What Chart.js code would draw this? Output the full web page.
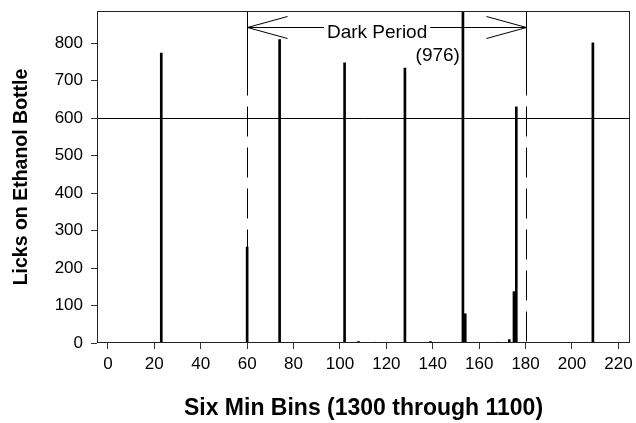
<!DOCTYPE html>
<html>
<head>
<meta charset="utf-8">
<script src="https://cdn.jsdelivr.net/npm/chart.js@4.4.0/dist/chart.umd.min.js"></script>
<style>
  html, body { margin: 0; padding: 0; background: #fff; }
  #wrap { width: 636px; height: 423px; }
</style>
</head>
<body>
<div id="wrap"><canvas id="chart"></canvas></div>
<script>
// six-minute bins and licks per bin
const bins  = [23, 60, 74, 102, 108, 115, 128, 139, 153, 154, 168, 173, 175, 176, 209];
const licks = [774, 256, 810, 748, 4, 2, 734, 4, 976, 78, 2, 9, 137, 630, 801];

const xTicks = [0, 20, 40, 60, 80, 100, 120, 140, 160, 180, 200, 220];
const yTicks = [0, 100, 200, 300, 400, 500, 600, 700, 800];

const darkStart = 60;
const darkEnd = 180;
const refLevel = 600;
const darkLabel = 'Dark Period';
const clippedBin = 153;
const clippedLabel = '(976)';

const FONT = '"Liberation Sans", Arial, sans-serif';

function seg(ctx, x1, y1, x2, y2) {
    ctx.beginPath();
    ctx.moveTo(x1, y1);
    ctx.lineTo(x2, y2);
    ctx.stroke();
}

const overlay = {
    id: 'overlay',
    afterDatasetsDraw(chart) {
        const { ctx, chartArea: a, scales: { x, y } } = chart;
        const px = v => Math.round(x.getPixelForValue(v)) + 0.5;
        const py = v => Math.round(y.getPixelForValue(v)) + 0.5;
        ctx.save();
        ctx.strokeStyle = '#000';
        ctx.lineWidth = 1;

        // 600 lick reference line
        seg(ctx, a.left, py(refLevel), a.right, py(refLevel));

        // dark period bounds: solid at top, dashed below
        const yBreak = py(661);
        [darkStart, darkEnd].forEach(v => {
            const xx = px(v);
            ctx.setLineDash([]);
            seg(ctx, xx, a.top, xx, yBreak);
            ctx.setLineDash([30, 11]);
            ctx.lineDashOffset = 30;
            seg(ctx, xx, yBreak, xx, a.bottom);
        });
        ctx.setLineDash([]);

        // arrow with label
        const ay = py(843);
        const xs = px(darkStart), xe = px(darkEnd);
        ctx.font = '19px ' + FONT;
        ctx.fillStyle = '#000';
        ctx.textAlign = 'center';
        ctx.textBaseline = 'alphabetic';
        const tx = x.getPixelForValue(116);
        const tw = ctx.measureText(darkLabel).width;
        ctx.fillText(darkLabel, tx, ay + 10);
        seg(ctx, xs, ay, tx - tw / 2 - 3, ay);
        seg(ctx, tx + tw / 2 + 3, ay, xe, ay);
        seg(ctx, xs, ay, xs + 40, ay - 11);
        seg(ctx, xs, ay, xs + 40, ay + 11);
        seg(ctx, xe, ay, xe - 40, ay - 11);
        seg(ctx, xe, ay, xe - 40, ay + 11);

        // value of the bar running off the top
        ctx.textAlign = 'right';
        ctx.fillText(clippedLabel, x.getPixelForValue(clippedBin) - 3, ay + 33);

        // plot frame
        ctx.strokeStyle = '#222';
        ctx.strokeRect(a.left + 0.5, a.top + 0.5, a.right - a.left - 1, a.bottom - a.top - 1);
        ctx.restore();
    }
};

new Chart(document.getElementById('chart'), {
    type: 'bar',
    data: {
        datasets: [{
            data: bins.map((b, i) => ({ x: b, y: licks[i] })),
            backgroundColor: '#000',
            borderWidth: 0,
            barThickness: 2
        }]
    },
    options: {
        responsive: true,
        maintainAspectRatio: false,
        animation: false,
        layout: { padding: { left: 8, top: 11, right: 6, bottom: 0 } },
        plugins: { legend: { display: false }, tooltip: { enabled: false } },
        scales: {
            x: {
                type: 'linear',
                min: -4.7,
                max: 225,
                offset: false,
                afterBuildTicks: s => { s.ticks = xTicks.map(v => ({ value: v })); },
                afterFit: s => { s.height = 80; s.paddingLeft = 0; s.paddingRight = 0; },
                grid: { drawOnChartArea: false, drawTicks: true, tickLength: 6, color: '#333', offset: false },
                border: { display: false },
                ticks: { color: '#000', font: { family: FONT, size: 17 }, padding: 5, maxRotation: 0, autoSkip: false },
                title: {
                    display: true,
                    text: 'Six Min Bins (1300 through 1100)',
                    color: '#000',
                    font: { family: FONT, size: 23, weight: 'bold' },
                    padding: { top: 0, bottom: 1 }
                }
            },
            y: {
                min: 0,
                max: 886,
                afterBuildTicks: s => { s.ticks = yTicks.map(v => ({ value: v })); },
                afterFit: s => { s.width = 89; s.paddingTop = 0; s.paddingBottom = 0; },
                grid: { drawOnChartArea: false, drawTicks: true, tickLength: 6, color: '#333' },
                border: { display: false },
                ticks: { color: '#000', font: { family: FONT, size: 17 }, padding: 8 },
                title: {
                    display: true,
                    text: 'Licks on Ethanol Bottle',
                    color: '#000',
                    font: { family: FONT, size: 19.5, weight: 'bold' },
                    padding: { top: 2, bottom: 0 }
                }
            }
        }
    },
    plugins: [overlay]
});
</script>
</body>
</html>
